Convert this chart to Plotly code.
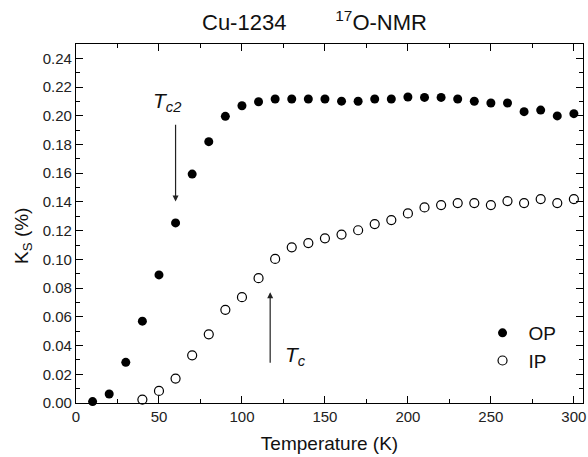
import plotly.graph_objects as go

temp_op = [10, 20, 30, 40, 50, 60, 70, 80, 90, 100, 110, 120, 130, 140, 150,
           160, 170, 180, 190, 200, 210, 220, 230, 240, 250, 260, 270, 280, 290, 300]
ks_op = [0.001, 0.0063, 0.0283, 0.057, 0.0892, 0.1254, 0.1594, 0.182, 0.1996, 0.207,
         0.2098, 0.2117, 0.2117, 0.2117, 0.2117, 0.2102, 0.2101, 0.2117, 0.2117, 0.2131,
         0.2128, 0.2128, 0.2117, 0.2101, 0.2089, 0.2089, 0.2029, 0.204, 0.1999, 0.2015]

temp_ip = [40, 50, 60, 70, 80, 90, 100, 110, 120, 130, 140, 150, 160, 170,
           180, 190, 200, 210, 220, 230, 240, 250, 260, 270, 280, 290, 300]
ks_ip = [0.0024, 0.0084, 0.017, 0.0332, 0.0478, 0.0649, 0.0737, 0.0869, 0.1003, 0.1084,
         0.1114, 0.1147, 0.1173, 0.1203, 0.1246, 0.1274, 0.132, 0.1362, 0.1378, 0.1392,
         0.1392, 0.1378, 0.1406, 0.1392, 0.142, 0.1392, 0.142]

FONT = "Arial, 'Liberation Sans', sans-serif"

fig = go.Figure()
fig.add_trace(go.Scatter(x=temp_op, y=ks_op, mode="markers", name="OP", cliponaxis=False,
                         marker=dict(symbol="circle", size=9, color="black",
                                     line=dict(width=0))))
fig.add_trace(go.Scatter(x=temp_ip, y=ks_ip, mode="markers", name="IP", cliponaxis=False,
                         marker=dict(symbol="circle-open", size=9, color="black",
                                     line=dict(width=1.2))))

axis_common = dict(showline=True, linecolor="black", linewidth=1.3, mirror="allticks",
                   ticks="inside", ticklen=7, tickwidth=1.2, tickcolor="black",
                   showgrid=False, zeroline=False, ticklabeloverflow="allow",
                   tickfont=dict(family=FONT, size=15, color="#222"))

fig.update_xaxes(range=[0, 305.5], tick0=0, dtick=50,
                 minor=dict(ticks="inside", ticklen=4, dtick=25, tickcolor="black", tickwidth=1.2),
                 title=dict(text="Temperature (K)", font=dict(family=FONT, size=19, color="#111"),
                            standoff=12),
                 **axis_common)
fig.update_yaxes(range=[0, 0.25], tick0=0, dtick=0.02, tickformat=".2f",
                 minor=dict(ticks="inside", ticklen=4, dtick=0.01, tickcolor="black", tickwidth=1.2),
                 **axis_common)

# Y axis title
fig.add_annotation(xref="paper", yref="paper", x=-0.106, y=0.466,
                   text="K<sub>S</sub> (%)", textangle=-90, showarrow=False,
                   font=dict(family=FONT, size=19, color="#111"),
                   xanchor="center", yanchor="middle")

# Title
fig.add_annotation(xref="paper", yref="paper", x=0.47, y=1.0, yshift=23,
                   text="Cu-1234\u00a0\u00a0\u00a0\u00a0\u00a0\u00a0\u00a0\u00a0<sup>17</sup>O-NMR",
                   showarrow=False, font=dict(family=FONT, size=22, color="#111"),
                   xanchor="center", yanchor="middle")

# Tc2 arrow
fig.add_annotation(x=60, y=0.1404, ax=60, ay=0.1948, xref="x", yref="y", axref="x", ayref="y",
                   text="", showarrow=True, arrowhead=2, arrowsize=1, arrowwidth=1.2,
                   arrowcolor="#222")
fig.add_annotation(x=55, y=0.2098, xref="x", yref="y", showarrow=False,
                   text="<i>T</i><sub><i>c2</i></sub>",
                   font=dict(family=FONT, size=21, color="#111"))

# Tc arrow
fig.add_annotation(x=117, y=0.0772, ax=117, ay=0.027, xref="x", yref="y", axref="x", ayref="y",
                   text="", showarrow=True, arrowhead=2, arrowsize=1, arrowwidth=1.2,
                   arrowcolor="#222")
fig.add_annotation(x=132, y=0.0327, xref="x", yref="y", showarrow=False,
                   text="<i>T</i><sub><i>c</i></sub>",
                   font=dict(family=FONT, size=21, color="#111"))

fig.update_layout(
    width=588, height=457,
    margin=dict(l=76, r=2, t=44, b=54),
    paper_bgcolor="white", plot_bgcolor="white",
    showlegend=True,
    legend=dict(x=0.79, y=0.248, xanchor="left", yanchor="top",
                bgcolor="rgba(0,0,0,0)", font=dict(family=FONT, size=19, color="#111"),
                itemwidth=42, tracegroupgap=0),
    font=dict(family=FONT),
)

fig.write_html("out.html", config={"displayModeBar": False},
               post_script="document.body.style.margin='0';document.body.style.overflow='hidden';")
